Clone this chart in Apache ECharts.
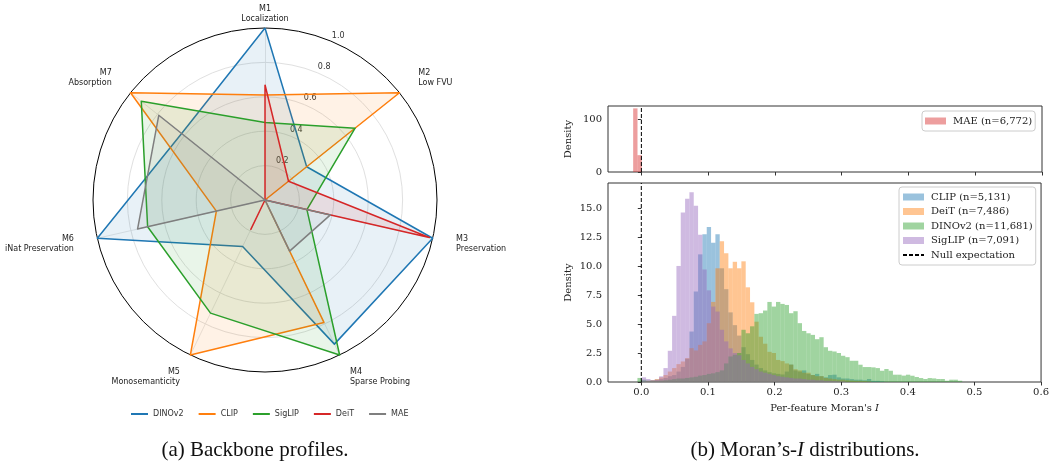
<!DOCTYPE html>
<html>
<head>
<meta charset="utf-8">
<script src="https://cdn.jsdelivr.net/npm/echarts@6/dist/echarts.min.js"></script>
<style>
html, body { margin: 0; padding: 0; background: #fff; }
#main { width: 1052px; height: 462px; }
</style>
</head>
<body>
<div id="main"></div>
<script>
// ---- radar data (metric order M1..M7) ----
var metricNames = ['M1\nLocalization', 'M2\nLow FVU', 'M3\nPreservation', 'M4\nSparse Probing',
	'M5\nMonosemanticity', 'M6\niNat Preservation', 'M7\nAbsorption'];
var backbones = ['DINOv2', 'CLIP', 'SigLIP', 'DeiT', 'MAE'];
var dinov2Scores = [1.0, 0.31, 1.0, 0.93, 0.30, 1.0, 0.62];
var clipScores = [0.61, 1.0, 0.0, 0.79, 1.0, 0.29, 1.0];
var siglipScores = [0.45, 0.67, 0.25, 1.0, 0.73, 0.70, 0.92];
var deitScores = [0.67, 0.175, 0.98, 0.0, 0.19, 0.0, 0.0];
var maeScores = [0.0, 0.0, 0.39, 0.33, 0.0, 0.76, 0.79];
var radialTicks = [0.2, 0.4, 0.6, 0.8, 1.0];

// ---- histogram data (density per bin) ----
var binStart = -0.0058;
var binWidth = 0.0065;
var maeBinStart = binStart - binWidth;
var maeDensity = [121, 32];
var clipDensity = [0, 0.1, 0.1, 0.15, 0.2, 0.25, 0.35, 0.5, 0.6, 0.9, 1.3, 2.0, 4.35, 7.8, 11.0, 12.74, 13.35, 12.0,
	12.74, 9.8, 8.0, 6.0, 4.9, 4.0, 3.0, 2.4, 1.9, 1.5, 1.2, 1.0, 0.85, 0.75, 0.7, 0.65, 0.9, 1.5, 1.0, 0.9, 1.0,
	0.7, 0.6, 0.7, 0.5, 0.4, 0.6, 0.63, 0.4, 0.3, 0.3, 0.25, 0.2, 0.2, 0.15, 0.26, 0.1, 0.1, 0.05];
var deitDensity = [0, 0.05, 0.1, 0.15, 0.25, 0.4, 0.6, 0.9, 1.2, 1.54, 1.77, 2.06, 2.92, 2.72, 3.2, 3.5, 5.07, 6.9,
	9.8, 12.14, 11.1, 9.8, 10.36, 9.8, 10.4, 8.16, 6.87, 5.2, 3.9, 3.3, 2.6, 2.5, 1.9, 1.8, 1.6, 1.5, 1.1, 1.0, 0.8,
	0.8, 0.6, 0.5, 0.5, 0.35, 0.3, 0.25, 0.2, 0.2, 0.15, 0.12, 0.1, 0.1, 0.08, 0.05];
var dinov2Density = [0.35, 0.2, 0.12, 0.1, 0.1, 0.12, 0.15, 0.2, 0.25, 0.3, 0.3, 0.35, 0.4, 0.45, 0.55, 0.6, 0.7,
	0.75, 0.85, 1.0, 1.6, 2.2, 2.35, 2.5, 4.5, 4.2, 4.8, 5.87, 5.93, 6.16, 6.9, 6.5, 6.9, 6.73, 6.64, 5.93, 6.1,
	5.07, 4.4, 4.2, 4.06, 3.69, 3.86, 3.0, 2.69, 2.63, 2.5, 2.26, 2.14, 1.83, 1.83, 1.49, 1.29, 1.29, 1.26, 1.2,
	0.97, 1.12, 0.97, 0.63, 0.63, 0.55, 0.63, 0.54, 0.43, 0.34, 0.26, 0.34, 0.31, 0.26, 0.26, 0.11, 0.2, 0.2, 0.11];
var siglipDensity = [0, 0.40, 0.26, 0.15, 0.20, 0.49, 1.2, 2.69, 5.7, 10.0, 14.6, 15.8, 16.35, 15.2, 12.7, 9.7,
	7.9, 6.5, 6.07, 4.5, 3.5, 2.9, 2.5, 2.3, 1.9, 1.6, 1.3, 1.1, 0.9, 0.8, 0.7, 0.6, 0.5, 0.45, 0.4, 0.35, 0.3,
	0.3, 0.25, 0.2, 0.2, 0.15, 0.15, 0.1, 0.1, 0.08, 0.06, 0.05];
var xTicks = [0, 0.1, 0.2, 0.3, 0.4, 0.5, 0.6];
var topYTicks = [0, 100];
var bottomYTicks = [0, 2.5, 5, 7.5, 10, 12.5, 15];
var topYMax = 125.5;
var bottomYMax = 17.15;
var nullValue = 0;

var dom = document.getElementById('main');
var myChart = echarts.init(dom, null, { renderer: 'canvas' });

var sans = 'DejaVu Sans';
var serif = 'DejaVu Serif';
var capFont = 'Liberation Serif';

// radar goes counter-clockwise, so feed M1, M7, M6 ... M2
function radarOrder(arr) {
	return [arr[0], arr[6], arr[5], arr[4], arr[3], arr[2], arr[1]];
}

function radarSeries(name, scores, color) {
	return {
		type: 'radar',
		radarIndex: 0,
		symbol: 'none',
		lineStyle: { color: color, width: 1.5 },
		itemStyle: { color: color },
		areaStyle: { color: color, opacity: 0.1 },
		data: [{ name: name, value: radarOrder(scores) }]
	};
}

function renderBin(params, api) {
	var p0 = api.coord([api.value(0), api.value(2)]);
	var p1 = api.coord([api.value(1), 0]);
	return {
		type: 'rect',
		shape: { x: p0[0], y: p0[1], width: p1[0] - p0[0], height: p1[1] - p0[1] },
		style: { fill: api.visual('color') }
	};
}

function histSeries(name, start, heights, color, idx) {
	return {
		type: 'custom',
		name: name,
		xAxisIndex: idx,
		yAxisIndex: idx,
		renderItem: renderBin,
		itemStyle: { color: color },
		encode: { x: [0, 1], y: 2 },
		clip: true,
		data: heights.map(function (h, i) {
			return [start + i * binWidth, start + (i + 1) * binWidth, h];
		})
	};
}

function nullLine(name, idx, ymax) {
	return {
		type: 'line',
		name: name,
		xAxisIndex: idx,
		yAxisIndex: idx,
		symbol: 'none',
		silent: true,
		z: 5,
		lineStyle: { color: '#000', width: 1, type: [4, 2] },
		itemStyle: { color: 'rgba(0,0,0,0)' },
		data: [[nullValue, 0], [nullValue, ymax]]
	};
}

var histX = function (idx, showLabels) {
	return {
		type: 'value',
		gridIndex: idx,
		min: -0.05,
		max: 0.6,
		axisLine: { show: false },
		splitLine: { show: false },
		axisTick: { show: true, customValues: xTicks, length: 3.5, lineStyle: { color: '#333' } },
		axisLabel: {
			show: showLabels,
			customValues: xTicks,
			margin: 5,
			color: '#222',
			fontFamily: serif,
			fontSize: 10,
			formatter: function (v) { return v.toFixed(1); }
		}
	};
};

var histY = function (idx, ymax, ticks, digits) {
	return {
		type: 'value',
		gridIndex: idx,
		min: 0,
		max: ymax,
		name: 'Density',
		nameLocation: 'middle',
		nameGap: 35,
		nameTextStyle: { fontFamily: serif, fontSize: 10, color: '#222' },
		axisLine: { show: false },
		splitLine: { show: false },
		axisTick: { show: true, customValues: ticks, length: 3.5, lineStyle: { color: '#333' } },
		axisLabel: {
			customValues: ticks,
			margin: 6,
			color: '#222',
			fontFamily: serif,
			fontSize: 10,
			formatter: function (v) { return v.toFixed(digits); }
		}
	};
};

var radarIndicator = radarOrder(metricNames).map(function (n) {
	return { name: n, min: 0, max: 1 };
});

var histLegendText = { fontFamily: serif, fontSize: 10, color: '#222', padding: [0, 0, 0, 2], lineHeight: 12 };

option = {
	animation: false,
	backgroundColor: '#fff',
	color: ['#1f77b4', '#ff7f0e', '#2ca02c', '#d62728', '#7f7f7f'],
	title: [{
		text: '(a) Backbone profiles.',
		left: 255,
		top: 440,
		textAlign: 'center',
		padding: 0,
		textStyle: { fontFamily: capFont, fontSize: 21, fontWeight: 'normal', color: '#111' }
	}, {
		text: '(b) Moran\u2019s-{i|I} distributions.',
		left: 805,
		top: 440,
		textAlign: 'center',
		padding: 0,
		textStyle: {
			fontFamily: capFont, fontSize: 21, fontWeight: 'normal', color: '#111',
			rich: { i: { fontFamily: capFont, fontSize: 21, fontStyle: 'italic', color: '#111' } }
		}
	}],
	legend: [{
		data: backbones,
		left: 126,
		top: 405,
		icon: 'rect',
		itemWidth: 17,
		itemHeight: 2,
		itemGap: 15,
		textStyle: { fontFamily: sans, fontSize: 8, color: '#333' }
	}, {
		data: ['MAE (n=6,772)'],
		left: 922,
		top: 111,
		orient: 'vertical',
		icon: 'rect',
		itemWidth: 21,
		itemHeight: 7,
		padding: [4, 3, 4, 3],
		borderColor: '#ccc',
		borderWidth: 1,
		borderRadius: 3,
		textStyle: histLegendText
	}, {
		data: [
			{ name: 'CLIP (n=5,131)', icon: 'rect' },
			{ name: 'DeiT (n=7,486)', icon: 'rect' },
			{ name: 'DINOv2 (n=11,681)', icon: 'rect' },
			{ name: 'SigLIP (n=7,091)', icon: 'rect' },
			'Null expectation'
		],
		left: 899,
		top: 187,
		orient: 'vertical',
		itemWidth: 21,
		itemHeight: 7,
		itemGap: 2.5,
		padding: [4, 3, 4, 3],
		borderColor: '#ccc',
		borderWidth: 1,
		borderRadius: 3,
		textStyle: histLegendText
	}],
	radar: {
		center: [265, 200],
		radius: 172,
		startAngle: 90,
		shape: 'circle',
		splitNumber: 5,
		nameGap: 24,
		indicator: radarIndicator,
		axisName: {
			color: '#222',
			fontFamily: sans,
			fontSize: 8,
			lineHeight: 10,
			verticalAlign: 'middle',
			formatter: function (name) {
				return name.indexOf('M1') === 0 ? '\n\n' + name : name;
			}
		},
		axisLine: { lineStyle: { color: '#e0e0e0', width: 0.8 } },
		splitLine: { lineStyle: { color: ['#e0e0e0', '#e0e0e0', '#e0e0e0', '#e0e0e0', '#e0e0e0', '#000'], width: 1 } },
		splitArea: { show: false },
		axisLabel: { show: false }
	},
	polar: { center: [265, 200], radius: 180 },
	angleAxis: { type: 'value', min: 0, max: 360, startAngle: 66, show: false },
	radiusAxis: {
		type: 'value',
		min: -8 / 172,
		max: 1,
		axisLine: { show: false },
		axisTick: { show: false },
		splitLine: { show: false },
		axisLabel: {
			customValues: radialTicks,
			margin: 0,
			align: 'center',
			verticalAlign: 'middle',
			color: '#333',
			fontFamily: sans,
			fontSize: 8,
			formatter: function (v) { return v.toFixed(1); }
		}
	},
	grid: [
		{ left: 608, top: 106, width: 434, height: 66, show: true, borderColor: '#333', borderWidth: 1 },
		{ left: 608, top: 183, width: 434, height: 199, show: true, borderColor: '#333', borderWidth: 1 }
	],
	xAxis: [histX(0, false), Object.assign(histX(1, true), {
		name: "Per-feature Moran's {i|I}",
		nameLocation: 'middle',
		nameGap: 21,
		nameTextStyle: {
			fontFamily: serif, fontSize: 10, color: '#222',
			rich: { i: { fontFamily: serif, fontSize: 10, fontStyle: 'italic', color: '#222' } }
		}
	})],
	yAxis: [histY(0, topYMax, topYTicks, 0), histY(1, bottomYMax, bottomYTicks, 1)],
	series: [
		radarSeries('DINOv2', dinov2Scores, '#1f77b4'),
		radarSeries('CLIP', clipScores, '#ff7f0e'),
		radarSeries('SigLIP', siglipScores, '#2ca02c'),
		radarSeries('DeiT', deitScores, '#d62728'),
		radarSeries('MAE', maeScores, '#7f7f7f'),
		histSeries('MAE (n=6,772)', maeBinStart, maeDensity, 'rgba(214,39,40,0.45)', 0),
		nullLine('null-top', 0, topYMax),
		histSeries('CLIP (n=5,131)', binStart, clipDensity, 'rgba(31,119,180,0.45)', 1),
		histSeries('DeiT (n=7,486)', binStart, deitDensity, 'rgba(255,127,14,0.45)', 1),
		histSeries('DINOv2 (n=11,681)', binStart, dinov2Density, 'rgba(44,160,44,0.45)', 1),
		histSeries('SigLIP (n=7,091)', binStart, siglipDensity, 'rgba(148,103,189,0.45)', 1),
		nullLine('Null expectation', 1, bottomYMax)
	]
};

if (option && typeof option === "object") {
	myChart.setOption(option, true);
}
</script>
</body>
</html>
